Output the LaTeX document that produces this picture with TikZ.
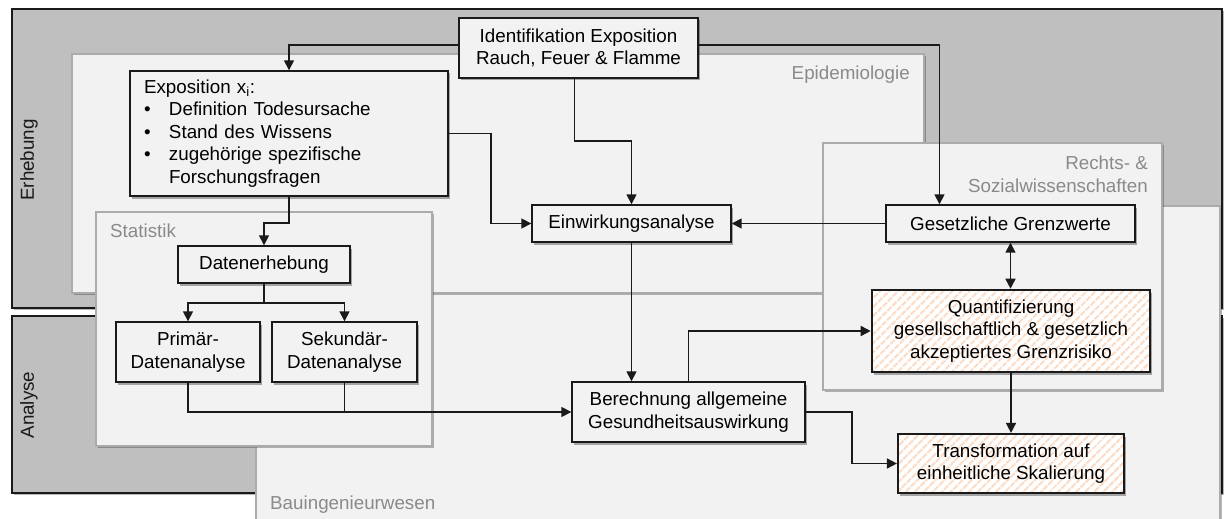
\documentclass[tikz,border=0pt]{standalone}
\usepackage{fontspec}
\setmainfont{Liberation Sans}
\usetikzlibrary{arrows.meta,shadows,patterns.meta}

\definecolor{band}{HTML}{BFBFBF}
\definecolor{panel}{HTML}{F2F2F2}
\definecolor{panelline}{HTML}{ABABAB}
\definecolor{labelgray}{HTML}{8A8A8A}
\definecolor{stripe}{HTML}{FBDCC6}
\definecolor{ink}{HTML}{1A1A1A}

\newcommand\bitem{\makebox[25pt][l]{\textbullet}}

\begin{document}
\begin{tikzpicture}[x=1pt,y=-1pt,
  font=\fontsize{18.8}{22.6}\selectfont,
  softshadow/.style={drop shadow={shadow xshift=1.5pt,shadow yshift=-2pt,opacity=0.28,fill=black}},
  bandbox/.style={draw=ink,line width=1.5pt,fill=band,softshadow},
  panelbox/.style={draw=panelline,line width=1.3pt,fill=panel,softshadow},
  procbox/.style={draw=ink,line width=1.4pt,fill=panel,inner sep=0pt,align=center,
    drop shadow={shadow xshift=2pt,shadow yshift=-2.5pt,opacity=0.32,fill=black}},
  riskbox/.style={procbox,line width=2.2pt,preaction={fill=white},
    pattern={Lines[angle=45,distance=6.5pt,line width=2.6pt]},pattern color=stripe},
  paneltitle/.style={text=labelgray,inner sep=0pt},
  bandtitle/.style={text=ink,inner sep=0pt,rotate=90},
  conn/.style={draw=ink,line width=1.6pt,-{Triangle[length=10pt,width=10pt]}},
  bothconn/.style={draw=ink,line width=1.6pt,{Triangle[length=10pt,width=10pt]}-{Triangle[length=10pt,width=10pt]}}
]
\useasboundingbox (0,0) rectangle (1229,519);
\clip (0,0) rectangle (1229,519);

% phase bands
\path[bandbox] (12,9) rectangle (1222,308);
\path[bandbox] (12,316) rectangle (1222,493);

% discipline panels
\path[panelbox] (256,206) rectangle (1220,545);
\path[panelbox] (72,54) rectangle (924,293);
\path[panelbox] (96,212) rectangle (432,446);
\path[panelbox] (823,143) rectangle (1162,390);

% titles
\node[bandtitle] (erhebung) at (29,160) {Erhebung};
\node[bandtitle] (analyse) at (29,405) {Analyse};
\node[paneltitle,anchor=base east] (epilabel) at (910,80) {Epidemiologie};
\node[paneltitle,anchor=north east,align=right] (rechtslabel) at (1148,156) {Rechts- \&\\Sozialwissenschaften};
\node[paneltitle,anchor=base west] (statlabel) at (110,237) {Statistik};
\node[paneltitle,anchor=base west] (baulabel) at (270,509) {Bauingenieurwesen};

% process steps
\node[procbox,minimum width=239pt,minimum height=60pt] (ident) at (578.5,48)
  {Identifikation Exposition\\Rauch, Feuer \& Flamme};
\node[procbox,text width=290pt,inner xsep=14pt,minimum height=125pt,align=left] (expo) at (289,133.5)
  {Exposition x\textsubscript{i}:\\
   \bitem Definition Todesursache\\
   \bitem Stand des Wissens\\
   \bitem zugehörige spezifische\\
   \hspace*{25pt}Forschungsfragen};
\node[procbox,minimum width=199pt,minimum height=37pt] (einw) at (631.5,223.5) {Einwirkungsanalyse};
\node[procbox,minimum width=249pt,minimum height=37pt] (gesetz) at (1010.5,223.5) {Gesetzliche Grenzwerte};
\node[riskbox,minimum width=278pt,minimum height=82pt] (quant) at (1011,331)
  {Quantifizierung\\gesellschaftlich \& gesetzlich\\akzeptiertes Grenzrisiko};
\node[riskbox,minimum width=226pt,minimum height=59pt] (trans) at (1011,463.5)
  {Transformation auf\\einheitliche Skalierung};
\node[procbox,minimum width=172pt,minimum height=37pt] (daten) at (264,264.5) {Datenerhebung};
\node[procbox,minimum width=144pt,minimum height=60pt] (prim) at (188,352) {Primär-\\Datenanalyse};
\node[procbox,minimum width=145pt,minimum height=60pt] (sek) at (344.5,352) {Sekundär-\\Datenanalyse};
\node[procbox,minimum width=233pt,minimum height=60pt] (ber) at (688.5,412)
  {Berechnung allgemeine\\Gesundheitsauswirkung};

% connectors
\draw[conn] ([yshift=3pt]ident.west) -| (expo.north);
\draw[conn] ([yshift=3pt]ident.east) -| ([xshift=-71pt]gesetz.north);
\draw[conn] ([xshift=-4pt]ident.south) -- ++(0,62) -| (einw.north);
\draw[conn] (expo.east) -- ++(42,0) |- (einw.west);
\draw[conn] (gesetz.west) -- (einw.east);
\draw[conn] (expo.south) -- ++(0,26) -| (daten.north);
\draw[conn] (daten.south) -- ++(0,19) -| (prim.north);
\draw[conn] (daten.south) -- ++(0,19) -| (sek.north);
\draw[conn] (prim.south) |- (ber.west);
\draw[draw=ink,line width=1.6pt] (sek.south) -- (sek.south |- ber.west);
\draw[conn] (einw.south) -- (einw.south |- ber.north);
\draw[conn] (ber.north) |- (quant.west);
\draw[conn] (ber.east) -- ++(46,0) |- (trans.west);
\draw[bothconn] (gesetz.south) -- (gesetz.south |- quant.north);
\draw[conn] (quant.south) -- (quant.south |- trans.north);
\end{tikzpicture}
\end{document}
